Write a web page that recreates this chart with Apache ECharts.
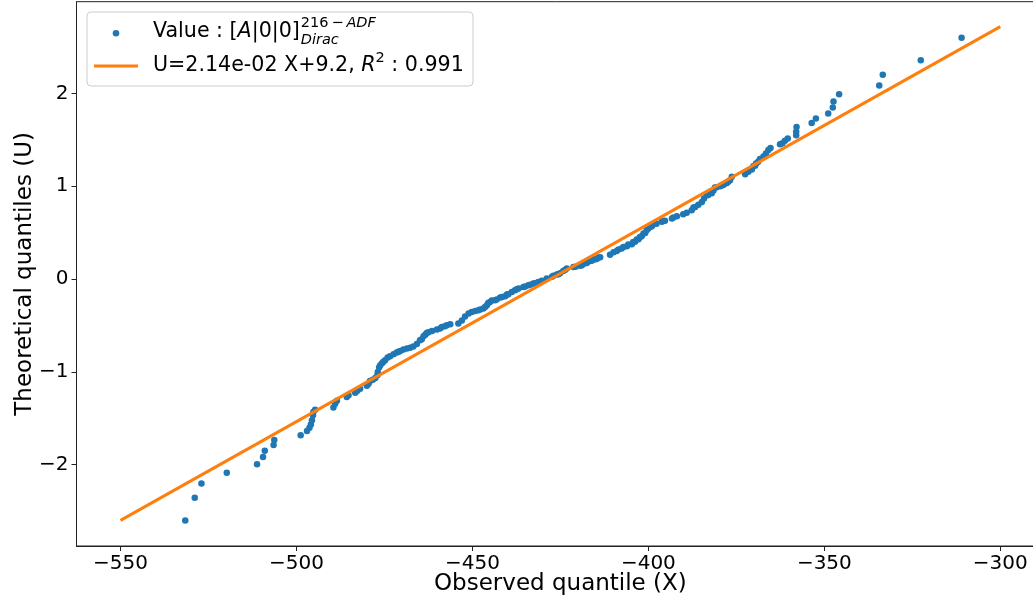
<!DOCTYPE html>
<html><head><meta charset="utf-8">
<script src="https://cdn.jsdelivr.net/npm/echarts@6/dist/echarts.min.js"></script>
<style>html,body{margin:0;padding:0;background:#fff}#c{width:1033px;height:605px}</style>
</head><body><div id="c"></div>
<script>
// Observed quantiles (X) and theoretical quantiles (U)
const obsX = [
-531.6,-528.9,-527.0,-519.8,-511.2,-509.5,-509.0,-506.5,-506.3,-498.8,
-497.0,-496.3,-495.9,-495.6,-495.3,-495.2,-494.7,-489.5,-489.0,-488.5,
-485.7,-485.2,-483.3,-482.7,-481.9,-480.0,-479.5,-479.1,-478.3,-477.6,
-477.0,-476.9,-476.5,-476.2,-475.7,-475.3,-474.8,-474.1,-473.4,-472.4,
-471.5,-471.0,-470.5,-469.6,-468.6,-467.7,-466.8,-465.8,-464.9,-464.4,
-463.9,-463.4,-463.0,-462.5,-461.5,-460.1,-459.2,-458.7,-457.8,-457.3,
-456.3,-454.0,-453.0,-452.1,-451.1,-450.2,-449.2,-448.3,-447.8,-446.9,
-446.4,-445.9,-445.5,-445.0,-444.5,-443.6,-443.1,-442.1,-441.6,-440.7,
-440.2,-439.8,-438.8,-437.9,-437.4,-436.9,-435.5,-435.0,-434.1,-433.6,
-432.7,-432.2,-431.3,-430.3,-428.9,-427.4,-427.0,-426.0,-425.6,-425.1,
-424.2,-423.7,-423.2,-421.3,-420.7,-419.4,-418.9,-418.5,-418.0,-417.5,
-417.0,-416.6,-416.1,-415.6,-415.1,-414.7,-414.2,-413.7,-410.9,-409.9,
-409.0,-408.5,-407.6,-407.1,-406.1,-405.7,-404.7,-404.3,-403.8,-403.3,
-402.8,-402.4,-401.9,-401.4,-400.9,-400.5,-400.0,-399.5,-399.0,-398.6,
-397.7,-396.2,-395.7,-395.3,-393.3,-392.9,-391.9,-390.1,-389.1,-387.7,
-387.2,-386.7,-385.8,-384.8,-384.2,-383.4,-383.0,-382.0,-381.5,-381.1,
-380.6,-379.6,-379.1,-378.7,-378.2,-377.7,-377.3,-376.8,-376.3,-372.5,
-371.6,-370.6,-370.2,-369.7,-369.4,-368.8,-368.3,-367.3,-366.6,-365.9,
-365.3,-362.6,-361.9,-361.2,-360.4,-358.0,-358.0,-357.9,-353.6,-352.4,
-348.9,-347.6,-347.4,-345.8,-334.4,-333.4,-322.6,-311.0
];
const theoU = [
-2.601,-2.356,-2.202,-2.086,-1.994,-1.918,-1.849,-1.789,-1.735,-1.684,
-1.636,-1.603,-1.566,-1.522,-1.468,-1.433,-1.407,-1.385,-1.344,-1.312,
-1.271,-1.253,-1.226,-1.204,-1.181,-1.150,-1.127,-1.099,-1.084,-1.066,
-1.037,-1.002,-0.951,-0.929,-0.908,-0.892,-0.875,-0.846,-0.832,-0.811,
-0.792,-0.784,-0.775,-0.760,-0.749,-0.739,-0.728,-0.700,-0.660,-0.649,
-0.617,-0.601,-0.581,-0.574,-0.560,-0.544,-0.534,-0.516,-0.509,-0.498,
-0.487,-0.480,-0.447,-0.404,-0.372,-0.355,-0.344,-0.336,-0.329,-0.318,
-0.301,-0.282,-0.258,-0.247,-0.232,-0.229,-0.221,-0.199,-0.193,-0.185,
-0.167,-0.164,-0.139,-0.121,-0.110,-0.102,-0.085,-0.081,-0.067,-0.061,
-0.049,-0.045,-0.031,-0.018,0.005,0.025,0.036,0.050,0.052,0.063,
0.087,0.098,0.113,0.129,0.133,0.143,0.149,0.167,0.169,0.173,
0.192,0.195,0.197,0.210,0.212,0.215,0.232,0.235,0.262,0.289,
0.303,0.318,0.329,0.346,0.354,0.372,0.375,0.400,0.402,0.426,
0.429,0.454,0.461,0.491,0.497,0.526,0.544,0.562,0.569,0.591,
0.596,0.616,0.626,0.628,0.652,0.663,0.677,0.697,0.713,0.742,
0.771,0.777,0.801,0.831,0.868,0.904,0.906,0.925,0.954,0.987,
0.990,1.001,1.011,1.013,1.030,1.036,1.047,1.065,1.103,1.130,
1.155,1.181,1.216,1.220,1.245,1.265,1.292,1.321,1.353,1.389,
1.412,1.453,1.464,1.489,1.515,1.550,1.586,1.637,1.680,1.730,
1.784,1.849,1.912,1.992,2.086,2.201,2.356,2.599
];
// Fitted line end points
const fitX = [-550, -300];
const fitU = [-2.60, 2.72];
const xTicks = [-550, -500, -450, -400, -350, -300];
const yTicks = [-2, -1, 0, 1, 2];
const xTitle = 'Observed quantile (X)';
const yTitle = 'Theoretical quantiles (U)';

const FONT = 'DejaVu Sans';
const LF = 20.6; // legend font size
const SF = 14.5; // legend script font size
const fmt = v => String(v).replace('-', '\u2212');

const cv = document.createElement('canvas').getContext('2d');
function measure(t, size, italic) {
  cv.font = (italic ? 'italic ' : '') + size + 'px "' + FONT + '"';
  return cv.measureText(t).width;
}
function pieces(list, x0, yMid) {
  const out = [];
  let x = x0;
  list.forEach(p => {
    const size = p.size || LF;
    out.push({
      type: 'text', z: 101,
      style: {
        text: p.t, x: x, y: yMid + (p.dy || 0),
        font: (p.italic ? 'italic ' : '') + size + 'px "' + FONT + '"',
        fill: '#000', verticalAlign: 'middle', align: 'left'
      }
    });
    x += measure(p.t, size, p.italic);
  });
  return out;
}

const chart = echarts.init(document.getElementById('c'), null, {renderer: 'canvas'});
const row1 = [{t: 'Value : '}, {t: '['}, {t: 'A', italic: true}, {t: '|0|0]'}];
const base = 153 + row1.reduce((s, p) => s + measure(p.t, LF, p.italic), 0) + 1;
const legendGraphics = [
  { type: 'rect', z: 100, shape: {x: 87, y: 12, width: 386, height: 74, r: 4},
    style: {fill: 'rgba(255,255,255,0.85)', stroke: '#cccccc', lineWidth: 1} },
  { type: 'circle', z: 101, shape: {cx: 116, cy: 33.3, r: 3.3}, style: {fill: '#1f77b4'} },
  { type: 'line', z: 101, shape: {x1: 94, y1: 66, x2: 138, y2: 66}, style: {stroke: '#ff7f0e', lineWidth: 3} },
  ...pieces(row1, 153, 32),
  ...pieces([{t: '216\u2009\u2212\u2009', size: SF, dy: -9}, {t: 'ADF', italic: true, size: SF, dy: -9}], base, 32),
  ...pieces([{t: 'Dirac', italic: true, size: SF, dy: 8}], base, 32),
  ...pieces([{t: 'U=2.14e-02 X+9.2, '}, {t: 'R', italic: true}, {t: '2', size: SF, dy: -8}, {t: ' : 0.991'}], 153, 66)
];

chart.setOption({
  animation: false,
  backgroundColor: '#fff',
  textStyle: {fontFamily: FONT},
  grid: {left: 76.5, right: -11.3, top: 1.7, bottom: 59, show: true,
         borderColor: '#222', borderWidth: 1, outerBoundsMode: 'none', containLabel: false},
  xAxis: {
    type: 'value', min: -562.5, max: -287.5,
    name: xTitle, nameLocation: 'middle', nameGap: 27, nameMoveOverlap: false,
    nameTextStyle: {fontSize: 23, color: '#000', fontFamily: FONT},
    axisLine: {show: true, onZero: false, lineStyle: {color: '#222', width: 1}},
    axisTick: {show: true, length: 5, customValues: xTicks, lineStyle: {color: '#222'}},
    axisLabel: {customValues: xTicks, formatter: fmt, fontSize: 20, color: '#000', margin: 8, fontFamily: FONT},
    splitLine: {show: false}
  },
  yAxis: {
    type: 'value', min: -2.876, max: 2.988,
    name: yTitle, nameLocation: 'middle', nameGap: 40, nameMoveOverlap: false,
    nameTextStyle: {fontSize: 23, color: '#000', fontFamily: FONT},
    axisLine: {show: true, onZero: false, lineStyle: {color: '#222', width: 1}},
    axisTick: {show: true, length: 5, customValues: yTicks, lineStyle: {color: '#222'}},
    axisLabel: {customValues: yTicks, formatter: fmt, fontSize: 20, color: '#000', margin: 8, fontFamily: FONT},
    splitLine: {show: false}
  },
  series: [
    { name: 'Value', type: 'scatter', symbol: 'circle', symbolSize: 6.5,
      itemStyle: {color: '#1f77b4', opacity: 1},
      emphasis: {disabled: true},
      data: obsX.map((x, i) => [x, theoU[i]]), z: 2 },
    { name: 'Fit', type: 'line', symbol: 'none',
      lineStyle: {color: '#ff7f0e', width: 3},
      emphasis: {disabled: true},
      data: fitX.map((x, i) => [x, fitU[i]]), z: 3 }
  ],
  graphic: legendGraphics
});
</script>
</body></html>
